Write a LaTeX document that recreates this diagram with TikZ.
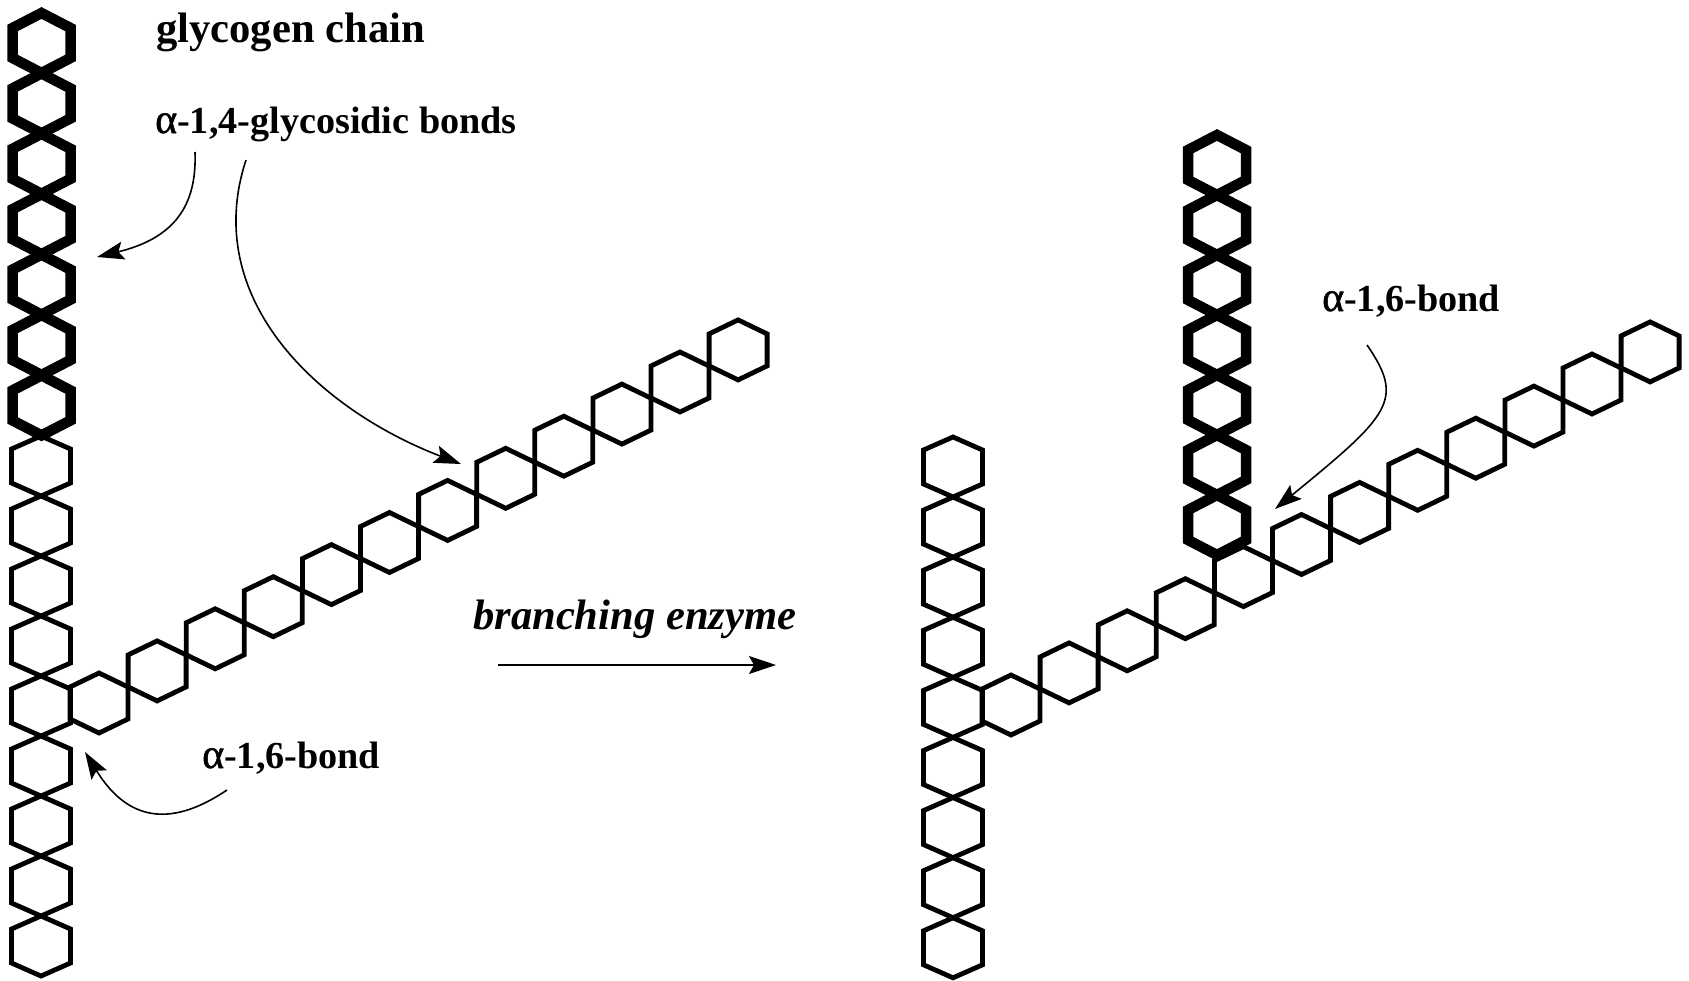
\documentclass[tikz,border=0pt]{standalone}
\usepackage{fontspec}
\setmainfont{Liberation Serif}
\newfontfamily\alphafont[FakeBold=1.2]{Liberation Serif}
\usetikzlibrary{arrows.meta}
\newcommand{\hexa}[6]{% style, cx, cy, half width, shoulder, apex
  \draw[#1] (#2,#3-#6) -- (#2+#4,#3-#5) -- (#2+#4,#3+#5) -- (#2,#3+#6)
    -- (#2-#4,#3+#5) -- (#2-#4,#3-#5) -- cycle;}
\newcommand{\alphachar}{{\alphafont\fontsize{42}{44}\fontseries{m}\selectfont α}}
\tikzset{
  thinhex/.style={draw=black,line width=4.8pt,line join=miter},
  thickhex/.style={draw=black,line width=10.5pt,line join=miter},
  lbl/.style={anchor=base west,inner sep=0pt,font=\fontsize{38.2}{40}\selectfont\bfseries},
  pointer/.style={draw=black,line width=1.6pt,-{Stealth[length=27pt,width=18pt,inset=5pt]}}
}
\begin{document}
\begin{tikzpicture}[x=1pt,y=-1pt]
\useasboundingbox (0,0) rectangle (1689,980);
% left figure
\foreach \i in {0,...,8}{\hexa{thinhex}{41}{466+60*\i}{29.5}{17}{30}}
\foreach \i in {0,...,11}{\hexa{thinhex}{99+58.1*\i}{703-32.1*\i}{29}{16}{30}}
\foreach \i in {0,...,6}{\hexa{thickhex}{41.5}{43+60.4*\i}{29}{15}{30}}
% right figure
\foreach \i in {0,...,8}{\hexa{thinhex}{953}{467+60.1*\i}{29.5}{17}{30}}
\foreach \i in {0,...,11}{\hexa{thinhex}{1011+58.1*\i}{705-32.1*\i}{29}{16}{30}}
\foreach \i in {0,...,6}{\hexa{thickhex}{1217}{165+60*\i}{29}{15}{30}}
% labels
\node[lbl,font=\fontsize{42.6}{44}\selectfont\bfseries] (chain) at (156,42) {glycogen chain};
\node[lbl] (bonds) at (155,133) {\alphachar-1,4-glycosidic bonds};
\node[lbl] (bondA) at (202,768) {\alphachar-1,6-bond};
\node[lbl] (bondB) at (1322,311) {\alphachar-1,6-bond};
\node[lbl,font=\fontsize{42.6}{44}\selectfont\bfseries\itshape] (enzyme) at (473,629) {branching enzyme};
% connector ends
\coordinate (s1) at (195,152);
\coordinate (t1) at (97,257);
\coordinate (s2) at (246,160);
\coordinate (t2) at (461,464);
\coordinate (s3) at (227,790);
\coordinate (t3) at (85,752);
\coordinate (s4) at (1367,345);
\coordinate (t4) at (1275,509);
\coordinate (s5) at (498,665);
\coordinate (t5) at (776,665);
% connectors
\draw[pointer] (s1) .. controls (197,205) and (175,238) .. (t1);
\draw[pointer] (s2) .. controls (200,300) and (320,410) .. (t2);
\draw[pointer] (s3) .. controls (175,825) and (130,825) .. (t3);
\draw[pointer] (s4) .. controls (1405,400) and (1390,415) .. (t4);
\draw[pointer] (s5) -- (t5);
\end{tikzpicture}
\end{document}
